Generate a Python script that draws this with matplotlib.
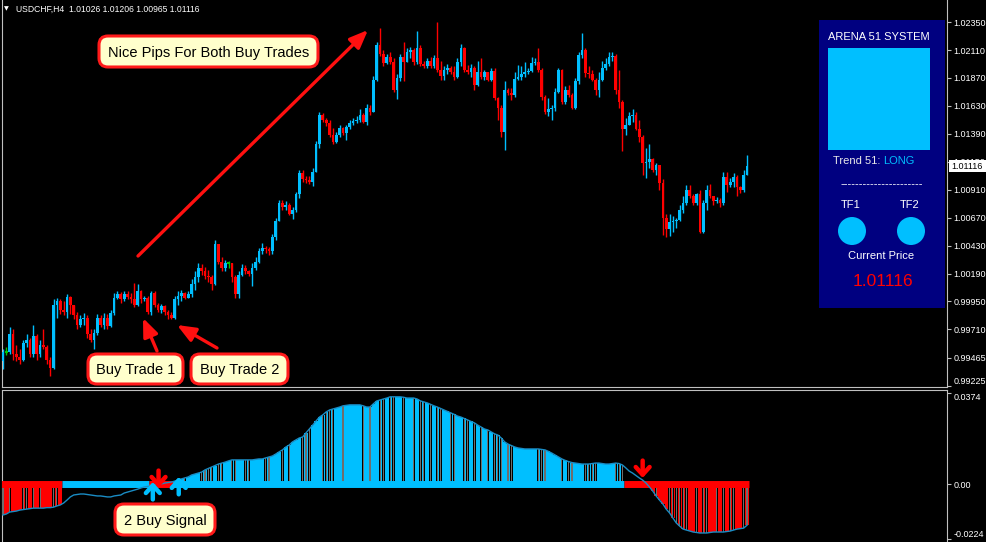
import matplotlib
matplotlib.use("Agg")
import numpy as np
from matplotlib import pyplot as plt
from matplotlib.patches import FancyBboxPatch, FancyArrowPatch, Rectangle, Circle
from matplotlib.transforms import Affine2D


# USDCHF H4 candles (open of first bar, then close / high / low per bar)
first_open = 0.9944
closes = [
    0.9952, 0.9952, 0.9967, 0.9950, 0.9947, 0.9945, 0.9959, 0.9962, 0.9950, 0.9965,
    0.9950, 0.9958, 0.9956, 0.9945, 0.9938, 0.9992, 0.9995, 0.9988, 0.9986, 0.9999,
    0.9992, 0.9983, 0.9975, 0.9980, 0.9981, 0.9967, 0.9962, 0.9968, 0.9981, 0.9975,
    0.9981, 0.9974, 0.9985, 0.9998, 1.0001, 0.9997, 1.0001, 0.9999, 0.9997, 0.9992,
    1.0004, 0.9997, 0.9998, 0.9986, 1.0002, 0.9992, 0.9988, 0.9991, 0.9986, 0.9983,
    0.9981, 0.9997, 1.0000, 1.0002, 0.9998, 1.0001, 1.0010, 1.0016, 1.0024, 1.0021,
    1.0017, 1.0016, 1.0010, 1.0044, 1.0029, 1.0024, 1.0028, 1.0028, 1.0016, 1.0001,
    1.0018, 1.0024, 1.0021, 1.0019, 1.0024, 1.0029, 1.0038, 1.0041, 1.0040, 1.0038,
    1.0050, 1.0064, 1.0080, 1.0076, 1.0078, 1.0070, 1.0074, 1.0087, 1.0105, 1.0100,
    1.0099, 1.0098, 1.0106, 1.0130, 1.0155, 1.0151, 1.0148, 1.0138, 1.0132, 1.0138,
    1.0144, 1.0140, 1.0145, 1.0148, 1.0150, 1.0151, 1.0155, 1.0149, 1.0161, 1.0158,
    1.0185, 1.0215, 1.0208, 1.0200, 1.0205, 1.0201, 1.0177, 1.0187, 1.0205, 1.0201,
    1.0209, 1.0211, 1.0201, 1.0213, 1.0199, 1.0197, 1.0202, 1.0197, 1.0204, 1.0194,
    1.0189, 1.0194, 1.0196, 1.0192, 1.0188, 1.0201, 1.0213, 1.0194, 1.0192, 1.0196,
    1.0181, 1.0192, 1.0188, 1.0192, 1.0185, 1.0193, 1.0170, 1.0161, 1.0141, 1.0177,
    1.0174, 1.0172, 1.0186, 1.0188, 1.0190, 1.0192, 1.0193, 1.0200, 1.0201, 1.0194,
    1.0171, 1.0158, 1.0160, 1.0161, 1.0175, 1.0194, 1.0166, 1.0177, 1.0172, 1.0161,
    1.0184, 1.0207, 1.0211, 1.0191, 1.0190, 1.0185, 1.0177, 1.0185, 1.0196, 1.0199,
    1.0205, 1.0206, 1.0177, 1.0166, 1.0143, 1.0147, 1.0154, 1.0155, 1.0143, 1.0136,
    1.0114, 1.0115, 1.0117, 1.0108, 1.0112, 1.0097, 1.0067, 1.0057, 1.0063, 1.0064,
    1.0065, 1.0074, 1.0080, 1.0091, 1.0086, 1.0080, 1.0087, 1.0055, 1.0080, 1.0091,
    1.0086, 1.0081, 1.0082, 1.0080, 1.0102, 1.0095, 1.0098, 1.0102, 1.0093, 1.0091,
    1.0104, 1.01116,
]
highs = [
    0.9954, 0.9956, 0.9973, 0.9971, 0.9958, 0.9954, 0.9962, 0.9967, 0.9964, 0.9975,
    0.9967, 0.9962, 0.9971, 0.9958, 0.9947, 0.9997, 0.9998, 0.9997, 0.9995, 1.0001,
    1.0000, 0.9992, 0.9986, 0.9983, 0.9985, 0.9983, 0.9971, 0.9971, 0.9984, 0.9983,
    0.9985, 0.9984, 0.9988, 1.0002, 1.0004, 1.0003, 1.0004, 1.0004, 1.0002, 1.0011,
    1.0010, 1.0005, 1.0000, 1.0000, 1.0004, 1.0004, 0.9994, 0.9993, 0.9992, 0.9988,
    0.9986, 1.0000, 1.0004, 1.0005, 1.0003, 1.0004, 1.0014, 1.0021, 1.0028, 1.0027,
    1.0025, 1.0022, 1.0018, 1.0048, 1.0044, 1.0033, 1.0031, 1.0030, 1.0028, 1.0018,
    1.0021, 1.0027, 1.0026, 1.0022, 1.0028, 1.0033, 1.0041, 1.0045, 1.0043, 1.0042,
    1.0053, 1.0067, 1.0082, 1.0082, 1.0081, 1.0080, 1.0076, 1.0089, 1.0108, 1.0108,
    1.0103, 1.0103, 1.0110, 1.0133, 1.0158, 1.0157, 1.0153, 1.0151, 1.0144, 1.0141,
    1.0147, 1.0145, 1.0147, 1.0151, 1.0153, 1.0154, 1.0160, 1.0157, 1.0165, 1.0164,
    1.0189, 1.0218, 1.0230, 1.0211, 1.0208, 1.0209, 1.0204, 1.0190, 1.0208, 1.0218,
    1.0213, 1.0214, 1.0213, 1.0227, 1.0215, 1.0202, 1.0204, 1.0205, 1.0207, 1.0235,
    1.0202, 1.0197, 1.0199, 1.0197, 1.0197, 1.0204, 1.0216, 1.0214, 1.0198, 1.0199,
    1.0197, 1.0202, 1.0204, 1.0194, 1.0192, 1.0196, 1.0196, 1.0171, 1.0164, 1.0184,
    1.0178, 1.0178, 1.0192, 1.0198, 1.0197, 1.0201, 1.0196, 1.0205, 1.0204, 1.0213,
    1.0196, 1.0172, 1.0170, 1.0164, 1.0178, 1.0196, 1.0195, 1.0180, 1.0181, 1.0174,
    1.0187, 1.0209, 1.0226, 1.0213, 1.0197, 1.0194, 1.0187, 1.0192, 1.0202, 1.0204,
    1.0209, 1.0209, 1.0208, 1.0194, 1.0168, 1.0153, 1.0158, 1.0160, 1.0158, 1.0151,
    1.0138, 1.0127, 1.0130, 1.0118, 1.0114, 1.0112, 1.0100, 1.0070, 1.0070, 1.0068,
    1.0067, 1.0078, 1.0086, 1.0095, 1.0095, 1.0087, 1.0088, 1.0091, 1.0082, 1.0095,
    1.0096, 1.0084, 1.0085, 1.0084, 1.0106, 1.0106, 1.0101, 1.0105, 1.0104, 1.0094,
    1.0108, 1.0121,
]
lows = [
    0.9937, 0.9949, 0.9950, 0.9945, 0.9944, 0.9941, 0.9944, 0.9956, 0.9947, 0.9947,
    0.9945, 0.9947, 0.9954, 0.9941, 0.9931, 0.9937, 0.9981, 0.9984, 0.9983, 0.9981,
    0.9984, 0.9980, 0.9971, 0.9973, 0.9975, 0.9964, 0.9960, 0.9954, 0.9966, 0.9973,
    0.9971, 0.9971, 0.9973, 0.9983, 0.9997, 0.9994, 0.9995, 0.9997, 0.9994, 0.9990,
    0.9991, 0.9994, 0.9995, 0.9984, 0.9983, 0.9990, 0.9986, 0.9985, 0.9983, 0.9980,
    0.9980, 0.9980, 0.9992, 0.9995, 0.9997, 0.9998, 0.9999, 1.0005, 1.0012, 1.0018,
    1.0014, 1.0012, 1.0005, 1.0009, 1.0027, 1.0021, 1.0021, 1.0024, 1.0012, 0.9998,
    0.9998, 1.0017, 1.0019, 1.0017, 1.0008, 1.0022, 1.0028, 1.0036, 1.0037, 1.0035,
    1.0036, 1.0048, 1.0064, 1.0074, 1.0074, 1.0069, 1.0066, 1.0072, 1.0084, 1.0098,
    1.0097, 1.0096, 1.0094, 1.0106, 1.0127, 1.0149, 1.0146, 1.0136, 1.0130, 1.0131,
    1.0136, 1.0138, 1.0134, 1.0143, 1.0147, 1.0148, 1.0149, 1.0148, 1.0147, 1.0155,
    1.0158, 1.0184, 1.0206, 1.0197, 1.0199, 1.0199, 1.0175, 1.0169, 1.0184, 1.0184,
    1.0201, 1.0204, 1.0198, 1.0199, 1.0197, 1.0196, 1.0196, 1.0196, 1.0196, 1.0192,
    1.0185, 1.0185, 1.0190, 1.0190, 1.0185, 1.0187, 1.0197, 1.0192, 1.0190, 1.0188,
    1.0177, 1.0180, 1.0186, 1.0185, 1.0184, 1.0184, 1.0168, 1.0151, 1.0136, 1.0125,
    1.0172, 1.0168, 1.0171, 1.0185, 1.0185, 1.0188, 1.0190, 1.0192, 1.0198, 1.0192,
    1.0168, 1.0156, 1.0154, 1.0151, 1.0159, 1.0174, 1.0165, 1.0165, 1.0171, 1.0160,
    1.0160, 1.0182, 1.0204, 1.0188, 1.0187, 1.0184, 1.0172, 1.0171, 1.0184, 1.0194,
    1.0197, 1.0202, 1.0173, 1.0161, 1.0124, 1.0138, 1.0147, 1.0149, 1.0142, 1.0132,
    1.0104, 1.0101, 1.0110, 1.0106, 1.0104, 1.0091, 1.0052, 1.0050, 1.0051, 1.0055,
    1.0058, 1.0064, 1.0071, 1.0078, 1.0084, 1.0078, 1.0078, 1.0054, 1.0054, 1.0074,
    1.0084, 1.0078, 1.0080, 1.0076, 1.0078, 1.0089, 1.0093, 1.0093, 1.0086, 1.0088,
    1.0089, 1.0104,
]

# Arena 51 oscillator (one value per bar)
osc = [
    -0.0127, -0.0123, -0.0115, -0.0113, -0.0111, -0.0107, -0.0105, -0.0103, -0.0101, -0.0099,
    -0.0099, -0.0099, -0.0099, -0.0097, -0.0097, -0.0095, -0.0090, -0.0086, -0.0078, -0.0066,
    -0.0053, -0.0045, -0.0043, -0.0041, -0.0041, -0.0043, -0.0045, -0.0047, -0.0049, -0.0049,
    -0.0051, -0.0053, -0.0053, -0.0049, -0.0047, -0.0045, -0.0037, -0.0033, -0.0029, -0.0025,
    -0.0021, -0.0016, -0.0012, -0.0010, -0.0008, -0.0004, -0.0002, 0.0000, 0.0004, 0.0006,
    0.0008, 0.0012, 0.0016, 0.0021, 0.0025, 0.0029, 0.0037, 0.0041, 0.0045, 0.0049,
    0.0058, 0.0064, 0.0070, 0.0076, 0.0082, 0.0086, 0.0090, 0.0095, 0.0099, 0.0099,
    0.0099, 0.0099, 0.0099, 0.0099, 0.0099, 0.0101, 0.0103, 0.0103, 0.0107, 0.0111,
    0.0115, 0.0123, 0.0132, 0.0140, 0.0152, 0.0160, 0.0173, 0.0181, 0.0189, 0.0193,
    0.0210, 0.0226, 0.0242, 0.0259, 0.0275, 0.0284, 0.0296, 0.0304, 0.0308, 0.0312,
    0.0316, 0.0321, 0.0323, 0.0325, 0.0325, 0.0325, 0.0325, 0.0321, 0.0316, 0.0316,
    0.0329, 0.0341, 0.0345, 0.0349, 0.0353, 0.0358, 0.0358, 0.0358, 0.0358, 0.0356,
    0.0353, 0.0353, 0.0353, 0.0349, 0.0341, 0.0337, 0.0333, 0.0327, 0.0321, 0.0316,
    0.0310, 0.0304, 0.0298, 0.0292, 0.0286, 0.0279, 0.0275, 0.0269, 0.0263, 0.0257,
    0.0251, 0.0242, 0.0234, 0.0226, 0.0222, 0.0214, 0.0206, 0.0201, 0.0189, 0.0173,
    0.0164, 0.0158, 0.0152, 0.0148, 0.0146, 0.0144, 0.0144, 0.0144, 0.0144, 0.0144,
    0.0142, 0.0140, 0.0134, 0.0127, 0.0119, 0.0111, 0.0103, 0.0097, 0.0092, 0.0088,
    0.0086, 0.0084, 0.0082, 0.0082, 0.0082, 0.0084, 0.0086, 0.0086, 0.0084, 0.0082,
    0.0082, 0.0084, 0.0086, 0.0084, 0.0078, 0.0066, 0.0053, 0.0045, 0.0035, 0.0025,
    0.0016, 0.0004, -0.0012, -0.0029, -0.0049, -0.0066, -0.0082, -0.0103, -0.0119, -0.0140,
    -0.0160, -0.0173, -0.0185, -0.0189, -0.0193, -0.0197, -0.0199, -0.0201, -0.0201, -0.0201,
    -0.0199, -0.0197, -0.0197, -0.0197, -0.0197, -0.0195, -0.0193, -0.0189, -0.0185, -0.0183,
    -0.0181, -0.0169,
]
# trend state changes: (first bar, direction)
trend_changes = [(0, "down"), (18, "up"), (44, "down"), (51, "up"), (185, "down")]
# signal arrows: bar position and arrow tip value
buy_bars = [44.5, 52.2]
buy_tips = [0.0008, 0.0029]
sell_bars = [46.2, 190]
sell_tips = [-0.0016, 0.0025]

price_ticks = [1.0235, 1.0211, 1.0187, 1.0163, 1.0139, 1.0115, 1.0091, 1.0067, 1.0043,
               1.0019, 0.9995, 0.9971, 0.99465, 0.99225]
osc_ticks = [0.0374, 0.0, -0.0224]
osc_tick_labels = ["0.0374", "0.00", "-0.0224"]

UP = "#00BFFF"
DOWN = "#FF0000"
AXC = "#C0C0C0"
ARIAL = ["Liberation Sans", "DejaVu Sans"]

W, H = 986, 542
fig = plt.figure(figsize=(W / 100, H / 100), dpi=100, facecolor="black")
# pixel coordinates measured from the top-left corner
px = Affine2D().scale(1 / 100, -1 / 100).translate(0, H / 100) + fig.dpi_scale_trans

ax = fig.add_axes([2 / W, 1 - 387 / H, 945 / W, 387 / H])
ax2 = fig.add_axes([2 / W, 0, 945 / W, 152.5 / H])

n = len(closes)
idx = np.arange(n)
c = np.array(closes)
o = np.array([first_open] + closes[:-1])
hi = np.array(highs)
lo = np.array(lows)
bull = c > o
bear = c < o
doji = c == o
cols = np.where(bull, UP, DOWN)
cols = np.where(doji, "#00C800", cols)

# ---- price panel
ax.vlines(idx, np.minimum(lo, np.minimum(o, c)), np.maximum(hi, np.maximum(o, c)),
          colors=cols, lw=1.0, zorder=2)
ax.bar(idx, np.abs(c - o), bottom=np.minimum(o, c), width=0.8, color=cols, lw=0, zorder=3)
ax.hlines(c[doji], idx[doji] - 0.45, idx[doji] + 0.45, colors="#00C800", lw=1.5, zorder=3)

xmin, xmax = -0.3, 280.4
ax.set_xlim(xmin, xmax)
ax.set_ylim(0.99215, 1.0254)
ax.set_facecolor("black")
ax.set_xticks([])
ax.yaxis.tick_right()
ax.set_yticks(price_ticks)
ax.set_yticklabels(["{:.5f}".format(v) for v in price_ticks], family=ARIAL)
ax.tick_params(axis="y", colors=AXC, labelcolor="white", labelsize=6.5, length=3, pad=1.5)
ax.get_yticklabels()[-1].set_va("bottom")
for side in ["left", "right", "bottom"]:
    ax.spines[side].set_color(AXC)
ax.spines["top"].set_visible(False)

# ---- oscillator panel
state = []
cur = trend_changes[0][1]
ch = dict(trend_changes)
for i in range(n):
    cur = ch.get(i, cur)
    state.append(cur)
state = np.array(state)
v = np.array(osc)
is_up = state == "up"
shown = (is_up & (v > 0)) | (~is_up & (v < 0))
hist_col = np.where(is_up, UP, DOWN)
ax2.bar(idx[shown], v[shown], width=1.0, color=hist_col[shown], lw=0, zorder=2)
counter = shown & ((is_up & bear) | (~is_up & bull))
ax2.bar(idx[counter], v[counter], width=0.7, color="black", lw=0, zorder=3)
ax2.bar(idx[counter], v[counter], width=0.32, color="#6e6e6e", lw=0, zorder=4)

starts = [s for s, _ in trend_changes] + [n]
for k, (s, d) in enumerate(trend_changes):
    e = starts[k + 1]
    ax2.plot([s - 0.5, e - 0.5], [0, 0], color=UP if d == "up" else DOWN,
             lw=5, solid_capstyle="butt", zorder=5)
ax2.plot(idx, v, color="#1A8CC4", lw=1.0, zorder=6)

arrow_style = "->,head_length=0.55,head_width=0.5"
for b, t in zip(buy_bars, buy_tips):
    ax2.annotate("", xy=(b, t), xytext=(0, -12.5), textcoords="offset points",
                 arrowprops=dict(arrowstyle=arrow_style, lw=3.2, color=UP,
                                 shrinkA=0, shrinkB=0), zorder=7)
for b, t in zip(sell_bars, sell_tips):
    ax2.annotate("", xy=(b, t), xytext=(0, 12.5), textcoords="offset points",
                 arrowprops=dict(arrowstyle=arrow_style, lw=3.2, color=DOWN,
                                 shrinkA=0, shrinkB=0), zorder=7)

ax2.set_xlim(xmin, xmax)
ax2.set_ylim(-0.0238, 0.0388)
ax2.set_facecolor("black")
ax2.set_xticks([])
ax2.yaxis.tick_right()
ax2.set_yticks(osc_ticks)
ax2.set_yticklabels(osc_tick_labels, family=ARIAL)
ax2.tick_params(axis="y", colors=AXC, labelcolor="white", labelsize=6.5, length=3, pad=1.5)
ax2.get_yticklabels()[0].set_va("top")
ax2.get_yticklabels()[-1].set_va("bottom")
for side in ["left", "right", "top"]:
    ax2.spines[side].set_color(AXC)
ax2.spines["bottom"].set_visible(False)

# ---- header and price tag
fig.text(4, 9, "\u25bc", transform=px, color="white", fontsize=4.5, va="center")
fig.text(16, 9, "USDCHF,H4  1.01026 1.01206 1.00965 1.01116", transform=px,
         color="white", fontsize=6.2, family=ARIAL, va="center")
fig.add_artist(Rectangle((949, 160), 37, 12, transform=px, fc="white", ec="none"))
fig.text(967, 166.5, "1.01116", transform=px, color="black", fontsize=6.5,
         family=ARIAL, ha="center", va="center")


# ---- callout boxes
def callout(x0, y0, w, h, label):
    box = FancyBboxPatch((x0, y0), w, h, boxstyle="round,pad=0,rounding_size=9",
                         transform=px, fc="#FFFFCC", ec="#FF1A1A", lw=2.2)
    fig.add_artist(box)
    fig.text(x0 + w / 2, y0 + h / 2 + 1, label, transform=px, color="black",
             fontsize=10.5, family=ARIAL, ha="center", va="center")


def red_arrow(x0, y0, x1, y1):
    fig.add_artist(FancyArrowPatch((x0, y0), (x1, y1), transform=px,
                                   arrowstyle="-|>,head_length=1.1,head_width=0.45",
                                   mutation_scale=10, lw=2.4, color="#FF1010",
                                   shrinkA=0, shrinkB=0))


callout(99, 36, 219, 31, "Nice Pips For Both Buy Trades")
callout(88, 354, 95, 30, "Buy Trade 1")
callout(191, 354, 97, 30, "Buy Trade 2")
callout(115, 504, 100, 31, "2 Buy Signal")
red_arrow(138, 256, 368, 30)
red_arrow(157, 351, 143, 318)
red_arrow(217, 348, 177, 325)

# ---- Arena 51 info panel
fig.add_artist(Rectangle((819, 20), 126, 288, transform=px, fc="#000080", ec="none"))
fig.add_artist(Rectangle((828, 48), 102, 102, transform=px, fc=UP, ec="none"))
fig.text(879, 37, "ARENA 51 SYSTEM", transform=px, color="white", fontsize=8,
         family=ARIAL, ha="center", va="center")
fig.text(880, 161, "Trend 51:", transform=px, color="#E8E8E8", fontsize=8,
         family=ARIAL, ha="right", va="center")
fig.text(883, 161, "LONG", transform=px, color=UP, fontsize=8,
         family=ARIAL, ha="left", va="center")
fig.text(882, 184, "-" * 22, transform=px, color="white", fontsize=8,
         family=ARIAL, ha="center", va="center")
fig.text(851, 205, "TF1", transform=px, color="white", fontsize=8,
         family=ARIAL, ha="center", va="center")
fig.text(910, 205, "TF2", transform=px, color="white", fontsize=8,
         family=ARIAL, ha="center", va="center")
fig.add_artist(Circle((852, 231), 14, transform=px, fc=UP, ec="none"))
fig.add_artist(Circle((911, 231), 14, transform=px, fc=UP, ec="none"))
fig.text(881, 256, "Current Price", transform=px, color="white", fontsize=8,
         family=ARIAL, ha="center", va="center")
fig.text(883, 281, "1.01116", transform=px, color="#FF0000", fontsize=12.5,
         family=ARIAL, ha="center", va="center")

fig.savefig("out.png", dpi=100, facecolor="black")
